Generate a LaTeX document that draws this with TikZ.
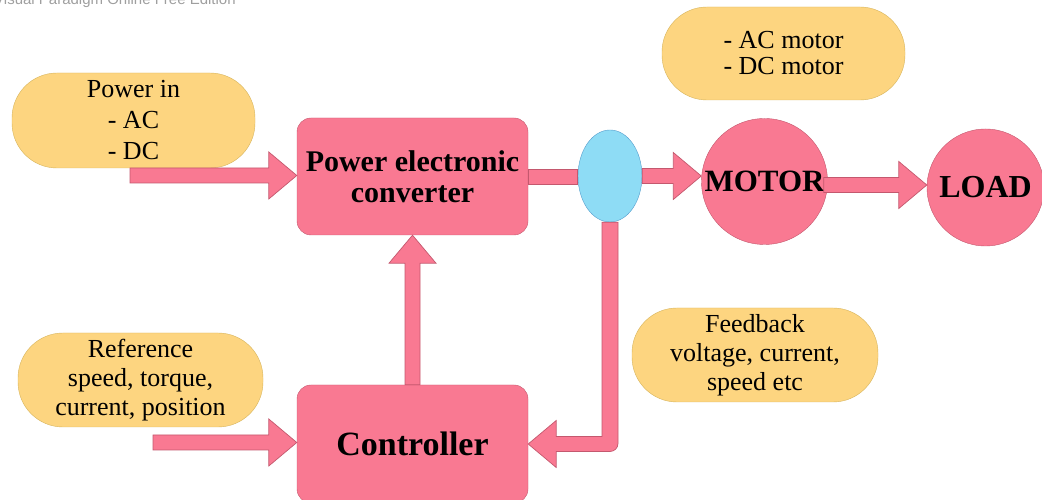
\documentclass[tikz,border=0pt]{standalone}
\usepackage{fontspec}
\setmainfont{Liberation Serif}
\newfontfamily\wmfont{Liberation Sans}
\usetikzlibrary{shapes.geometric,calc}

\definecolor{boxfill}{RGB}{249,121,146}
\definecolor{boxline}{RGB}{196,88,110}
\definecolor{pillfill}{RGB}{253,213,128}
\definecolor{pillline}{RGB}{214,180,92}
\definecolor{ellfill}{RGB}{142,220,245}
\definecolor{ellline}{RGB}{84,156,204}

\tikzset{
	pill/.style={draw=pillline, fill=pillfill, rounded corners=45pt, align=center, inner sep=0pt, font=\fontsize{26}{29}\selectfont},
	pinkbox/.style={draw=boxline, fill=boxfill, rounded corners=14pt, align=center, inner sep=0pt, font=\bfseries\fontsize{30}{31}\selectfont},
	pinkdisk/.style={circle, draw=boxline, fill=boxfill, inner sep=0pt, font=\bfseries\fontsize{31}{31}\selectfont},
	barrow/.style={draw=boxline, fill=boxfill, line width=0.7pt, line join=miter}
}

\newcommand{\harrow}[2]{%
	\path[barrow] let \p1=(#1), \p2=(#2) in
	(\x1,\y1+7.5)--(\x2-28,\y1+7.5)--(\x2-28,\y1+23.5)--(\x2,\y1)
	--(\x2-28,\y1-23.5)--(\x2-28,\y1-7.5)--(\x1,\y1-7.5)--cycle;}
\newcommand{\varrow}[2]{%
	\path[barrow] let \p1=(#1), \p2=(#2) in
	(\x1-7.5,\y1)--(\x1-7.5,\y2-28)--(\x1-23.5,\y2-28)--(\x1,\y2)
	--(\x1+23.5,\y2-28)--(\x1+7.5,\y2-28)--(\x1+7.5,\y1)--cycle;}

\begin{document}
\begin{tikzpicture}[x=1pt, y=1pt, line join=round, line cap=round]
	\useasboundingbox (0,0) rectangle (1042,500);
	\node[anchor=base west, inner sep=0pt, text=gray!75, font=\wmfont\fontsize{15}{15}\selectfont] (wm) at (-6,495) {Visual Paradigm Online Free Edition};
	\node[pill, minimum width=243pt, minimum height=95pt, font=\fontsize{26}{31}\selectfont] (pwrin) at (133.5,379.5) {Power in\\- AC\\- DC};
	\node[pill, minimum width=243pt, minimum height=93pt, font=\fontsize{26}{26}\selectfont] (mtype) at (783.5,446.5) {- AC motor\\- DC motor};
	\node[pill, minimum width=245pt, minimum height=94pt] (ref) at (140.5,120) {Reference\\speed, torque,\\current, position};
	\node[pill, minimum width=246pt, minimum height=94pt] (fb) at (755,145) {Feedback\\voltage, current,\\speed etc};
	\node[pinkbox, minimum width=231pt, minimum height=117pt] (conv) at (412.5,323.5) {Power electronic\\converter};
	\node[pinkbox, minimum width=231pt, minimum height=118pt, font=\bfseries\fontsize{34}{34}\selectfont] (ctrl) at (412.5,56) {Controller};
	\node[ellipse, draw=ellline, fill=ellfill, minimum width=64pt, minimum height=92pt, inner sep=0pt] (sens) at (610,324) {};
	\node[pinkdisk, minimum size=126pt] (motor) at (764.5,318.5) {MOTOR};
	\node[pinkdisk, minimum size=117pt, font=\bfseries\fontsize{32}{32}\selectfont] (load) at (985.5,312.5) {LOAD};
	\coordinate (pstart) at (130,324.5);
	\coordinate (rstart) at (153,57.5);
	\coordinate (mstart) at ($(motor.east)+(-4,-3.5)$);
	\path[barrow] let \p1=(conv.east), \p2=(sens.west) in (\x1,\y1-7.5) rectangle (\x2,\y1+7.5);
	\foreach \a/\b in {pstart/conv.west, rstart/ctrl.west, sens.east/motor.west, mstart/load.west}
	\harrow{\a}{\b};
	\varrow{ctrl.north}{conv.south}
	\path[barrow] let \p1=(sens.south), \p2=(ctrl.east) in
	(\x1-8,\y1)--(\x1-8,\y2+7.5)--(\x2+28,\y2+7.5)--(\x2+28,\y2+23.5)--(\x2,\y2)
	--(\x2+28,\y2-23.5)--(\x2+28,\y2-7.5)[rounded corners=8pt]--(\x1+8,\y2-7.5)[sharp corners]--(\x1+8,\y1)--cycle;
\end{tikzpicture}
\end{document}
